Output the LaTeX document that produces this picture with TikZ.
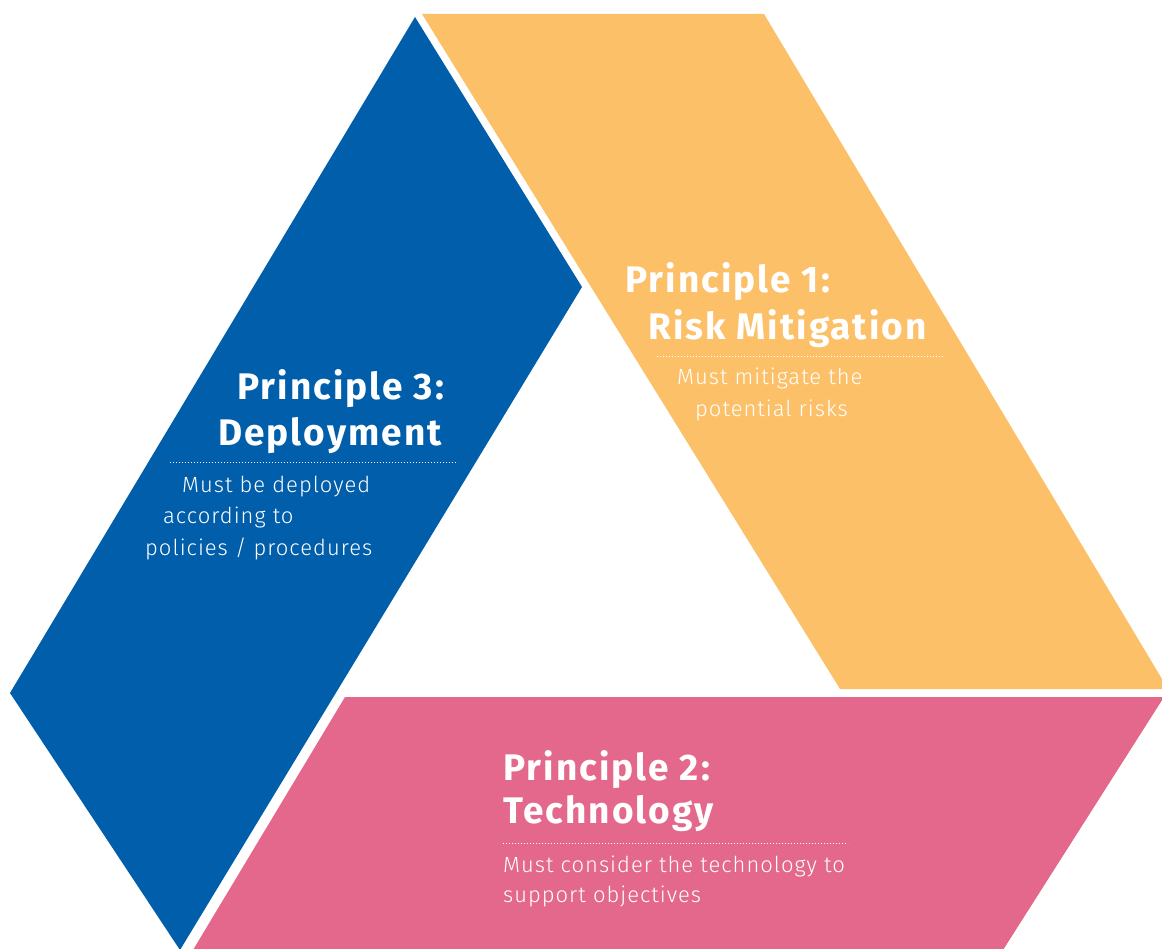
\documentclass[tikz,border=0pt]{standalone}
\usepackage{fontspec}
\setmainfont{Fira Sans}[LetterSpace=5.5]
\newfontfamily\lightfont{Fira Sans Light}[LetterSpace=4.5]
\definecolor{pblue}{RGB}{0,94,170}
\definecolor{pyellow}{RGB}{252,192,104}
\definecolor{ppink}{RGB}{227,104,139}
\tikzset{
  head/.style={text=white, inner sep=0pt, anchor=base west, font=\fontsize{37}{40}\selectfont\bfseries},
  body/.style={text=white, inner sep=0pt, anchor=base west, font=\fontsize{22}{24}\selectfont\lightfont},
  sep/.style={white, line width=1pt, dash pattern=on 1pt off 2pt}
}
\begin{document}
\begin{tikzpicture}[x=1pt,y=-1pt]
\useasboundingbox (0,0) rectangle (1162,949);
\clip (0,0) rectangle (1162,949);
% shapes
\fill[pblue] (415,17) -- (582,287) -- (180,950) -- (10,693) -- cycle;
\fill[pyellow] (422,14) -- (764,14) -- (1168,689) -- (840,689) -- cycle;
\fill[ppink] (345,697) -- (1164,697) -- (1003,950) -- (193,950) -- cycle;
% Principle 1
\node[head] (p1a) at (625,293) {Principle 1:};
\node[head] (p1b) at (648,340) {Risk Mitigation};
\coordinate (d1a) at (657,357);
\coordinate (d1b) at (945,357);
\draw[sep] (d1a) -- (d1b);
\node[body] (p1c) at (677,385) {Must mitigate the};
\node[body] (p1d) at (695,417) {potential risks};
% Principle 3
\node[head] (p3a) at (237,400) {Principle 3:};
\node[head] (p3b) at (218,445) {Deployment};
\coordinate (d3a) at (170,462);
\coordinate (d3b) at (458,462);
\draw[sep] (d3a) -- (d3b);
\node[body] (p3c) at (182,492) {Must be deployed};
\node[body] (p3d) at (163,523) {according to};
\node[body] (p3e) at (145,555) {policies / procedures};
% Principle 2
\node[head] (p2a) at (503,780) {Principle 2:};
\node[head] (p2b) at (503,823) {Technology};
\coordinate (d2a) at (503,843);
\coordinate (d2b) at (848,843);
\draw[sep] (d2a) -- (d2b);
\node[body] (p2c) at (503,872) {Must consider the technology to};
\node[body] (p2d) at (503,902) {support objectives};
\end{tikzpicture}
\end{document}
